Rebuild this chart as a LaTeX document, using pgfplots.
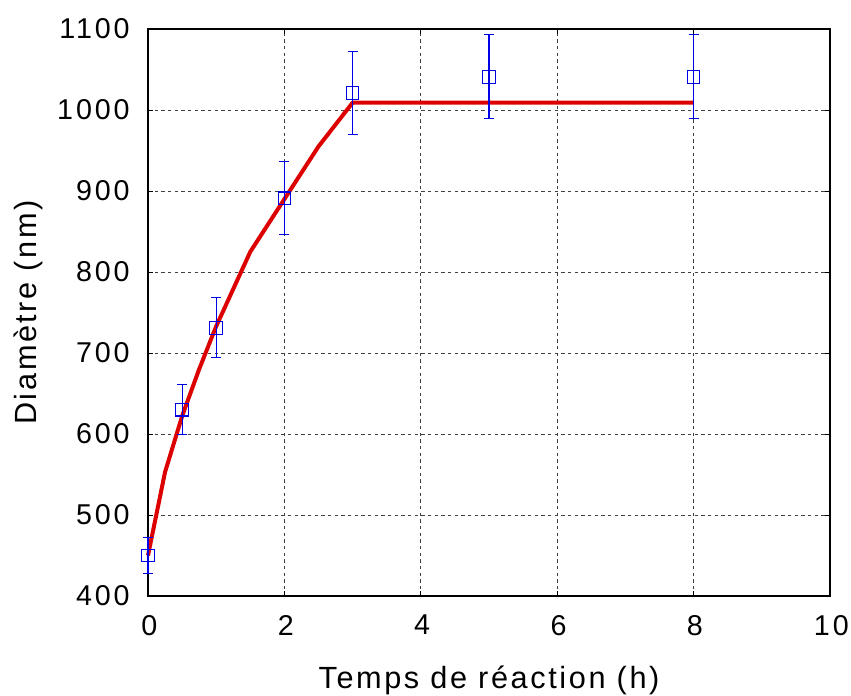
\documentclass[border=0pt]{standalone}
\usepackage{pgfplots}
\pgfplotsset{compat=1.18}
\usepackage{fontspec}
\setmainfont{Liberation Sans}
\newfontfamily\tickfont[LetterSpace=10]{Liberation Sans}
\newfontfamily\labfont[LetterSpace=8.5]{Liberation Sans}
\definecolor{myred}{RGB}{220,0,0}
\definecolor{myblue}{RGB}{0,0,230}
\begin{document}
\begin{tikzpicture}
\begin{axis}[
  name=ax,
  scale only axis,
  width=511.5pt, height=425.25pt,
  xmin=0, xmax=10, ymin=400, ymax=1100,
  xtick={0,2,4,6,8,10},
  ytick={400,500,600,700,800,900,1000,1100},
  grid=major,
  major grid style={black!75, line width=0.6pt, dash pattern=on 2.5pt off 2.5pt},
  axis line style={black, line width=0.9pt},
  tick style={black, line width=0.6pt},
  tick align=inside,
  major tick length=4pt,
  /pgf/number format/assume math mode=true,
  /pgf/number format/1000 sep={},
  tick label style={font=\tickfont\fontsize{21.5}{25}\selectfont, inner sep=0pt},
  xticklabel style={anchor=north, yshift=-14.25pt, xshift=1pt},
  yticklabel style={anchor=east, xshift=-13.6pt},
  label style={font=\labfont\fontsize{23}{27}\selectfont, inner sep=0pt},
  xlabel={Temps de réaction (h)},
  ylabel={Diamètre (nm)},
  xlabel style={at={(axis description cs:0.5,-0.1623)}, anchor=base},
  ylabel style={at={(axis description cs:-0.1628,0.5)}, rotate=0, anchor=base},
  clip=false,
]
\addplot[myred, line width=3pt, line join=round] coordinates {
 (0,450) (0.25,553) (0.5,622) (0.75,680) (1,733) (1.5,825) (2,890) (2.5,955) (3,1009) (8,1009)
};
\addplot[myblue, only marks, mark=square, mark size=4.7pt, mark options={line width=0.8pt},
  error bars/.cd, y dir=both, y explicit,
  error bar style={line width=0.8pt},
  error mark options={rotate=90, mark size=3.75pt, line width=0.8pt}]
  coordinates {
 (0,450) +- (0,22)
 (0.5,630) +- (0,31)
 (1,731) +- (0,37)
 (2,891) +- (0,45)
 (3,1021) +- (0,51)
 (5,1041) +- (0,52)
 (8,1041) +- (0,52)
};
\end{axis}
\pgfresetboundingbox
\path ([shift={(-111pt,-74.25pt)}]ax.south west) rectangle ([shift={(15.75pt,21.75pt)}]ax.north east);
\end{tikzpicture}
\end{document}
